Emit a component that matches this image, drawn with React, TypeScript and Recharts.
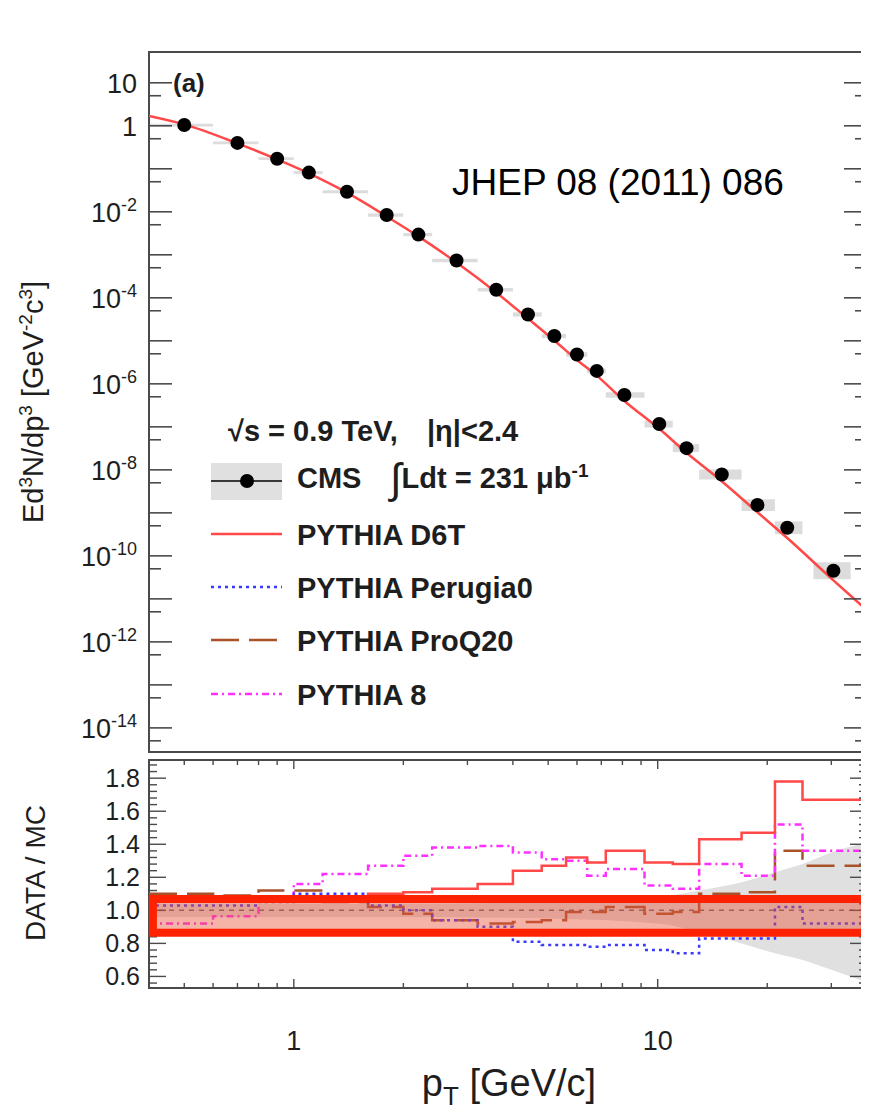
import React from 'react';
import { ComposedChart, Line, Scatter, Area, XAxis, YAxis, ReferenceArea, ReferenceLine } from 'recharts';

// CMS charged hadron spectrum, sqrt(s) = 0.9 TeV, |eta| < 2.4
const cmsPt = [0.5, 0.7, 0.9, 1.1, 1.4, 1.8, 2.2, 2.8, 3.6, 4.4, 5.2, 6.0, 6.8, 8.1, 10.1, 12, 15, 18.8, 22.7, 30.4];
const cmsYield = [1.04, 0.40, 0.172, 0.0817, 0.0292, 0.0084, 0.00295, 7.4e-4, 1.54e-4, 4.1e-5, 1.29e-5, 4.8e-6, 2.0e-6, 5.5e-7, 1.16e-7, 3.2e-8, 7.8e-9, 1.52e-9, 4.5e-10, 4.5e-11];
const cmsSysFactor = [1.08, 1.08, 1.08, 1.08, 1.08, 1.09, 1.09, 1.1, 1.1, 1.12, 1.12, 1.13, 1.14, 1.16, 1.2, 1.24, 1.3, 1.37, 1.41, 1.57];
const cmsBoxLo = [0.4, 0.6, 0.8, 1.0, 1.2, 1.6, 2.0, 2.4, 3.2, 4.0, 4.8, 5.6, 6.4, 7.2, 9.2, 11, 13, 17, 21, 26.8];
const cmsBoxHi = [0.6, 0.8, 1.0, 1.2, 1.6, 2.0, 2.4, 3.2, 4.0, 4.8, 5.6, 6.4, 7.2, 9.2, 11, 13, 17, 21, 25, 33.9];

// PYTHIA D6T curve in the upper panel
const d6tPt = [0.4, 0.5, 0.7, 0.9, 1.1, 1.4, 1.8, 2.2, 2.8, 3.6, 4.4, 5.2, 6.0, 6.8, 8.1, 10.1, 12, 15, 18.8, 22.7, 30.4, 37.6];
const d6tYield = [1.7, 1.08, 0.39, 0.165, 0.078, 0.0278, 0.0078, 0.00268, 6.6e-4, 1.33e-4, 3.3e-5, 1.02e-5, 3.6e-6, 1.55e-6, 4.0e-7, 9.0e-8, 2.5e-8, 5.45e-9, 1.03e-9, 2.6e-10, 2.7e-11, 5.4e-12];

// DATA / MC ratios, one value per bin
const binEdges = [0.4, 0.6, 0.8, 1.0, 1.2, 1.6, 2.0, 2.4, 3.2, 4.0, 4.8, 5.6, 6.4, 7.2, 9.2, 11, 13, 17, 21, 25, 37.6];
const ratioD6T = [1.06, 1.06, 1.06, 1.06, 1.07, 1.10, 1.11, 1.13, 1.16, 1.24, 1.27, 1.32, 1.29, 1.36, 1.29, 1.28, 1.43, 1.47, 1.78, 1.67];
const ratioPerugia0 = [1.03, 1.03, 1.05, 1.10, 1.10, 1.03, 1.00, 0.94, 0.90, 0.81, 0.79, 0.79, 0.78, 0.79, 0.76, 0.74, 0.83, 0.83, 1.02, 0.92];
const ratioProQ20 = [1.10, 1.09, 1.12, 1.12, 1.05, 1.02, 0.98, 0.94, 0.92, 0.93, 0.94, 0.99, 0.99, 1.02, 0.98, 0.99, 1.10, 1.11, 1.36, 1.27];
const ratioPythia8 = [0.92, 0.965, 1.06, 1.16, 1.22, 1.27, 1.33, 1.38, 1.39, 1.35, 1.31, 1.30, 1.21, 1.25, 1.15, 1.13, 1.28, 1.21, 1.52, 1.36];

// data uncertainty band in the ratio panel
const bandPt = [0.4, 2, 5, 10, 13, 17, 21, 25, 30, 37.6];
const bandLo = [0.96, 0.96, 0.95, 0.92, 0.87, 0.80, 0.74, 0.70, 0.64, 0.565];
const bandHi = [1.04, 1.04, 1.05, 1.08, 1.12, 1.17, 1.23, 1.28, 1.35, 1.41];

// highlighted region (red box)
const highlightPt = [0.41, 37.1];
const highlightRatio = [0.864, 1.068];

// axes
const topYMajorExps = [1, 0, -1, -2, -3, -4, -5, -6, -7, -8, -9, -10, -11, -12, -13, -14];
const topYLabelExps = [1, 0, -2, -4, -6, -8, -10, -12, -14];
const ratioMajorTicks = [0.6, 0.8, 1.0, 1.2, 1.4, 1.6, 1.8];
const ratioTickLabels = ['0.6', '0.8', '1.0', '1.2', '1.4', '1.6', '1.8'];
const xMajorTicks = [1, 10];
const xTickLabels = ['1', '10'];
const xMinorTicks = [0.5, 0.6, 0.7, 0.8, 0.9, 2, 3, 4, 5, 6, 7, 8, 9, 20, 30];

const W = 869;
const H = 1115;
const PL = 149;
const PR = 867;
const TOP_T = 52;
const TOP_B = 752;
const RAT_T = 760;
const RAT_B = 988;
const X_MIN = 0.4;
const X_MAX = 37.6;
const Y_MIN = 2.75e-15;
const Y_MAX = 52;
const R_MIN = 0.53;
const R_MAX = 1.91;

const FONT = '"Liberation Sans", Arial, Helvetica, sans-serif';
const FRAME = '#4a4a4a';
const TXT = '#1e1e1e';
const RED = '#ff4848';
const BLUE = '#3a3aff';
const BROWN = '#a8522a';
const MAGENTA = '#ff30ff';
const GRAY = '#e0e0e0';

const cmsRows = cmsPt.map((x, i) => ({ x, y: cmsYield[i] }));
const d6tRows = d6tPt.map((x, i) => ({ x, y: d6tYield[i] }));
const ratioRows = binEdges.map((x, i) => {
  const k = Math.min(i, ratioD6T.length - 1);
  return { x, d6t: ratioD6T[k], per: ratioPerugia0[k], proq: ratioProQ20[k], p8: ratioPythia8[k] };
});
const bandRows = bandPt.map((x, i) => ({ x, band: [bandLo[i], bandHi[i]] }));

const topYTicks = [
  ...topYMajorExps.map((e) => Math.pow(10, e)),
  ...topYMajorExps.map((e) => 5 * Math.pow(10, e - 1)),
];
const ratioYTicks = Array.from({ length: 34 }, (_, i) => +(0.56 + 0.04 * i).toFixed(2));
const xTicks = [...xMajorTicks, ...xMinorTicks];

const PowLabel = ({ x, y, e }: { x: number; y: number; e: number }) => (
  <text x={x} y={y} textAnchor="end" fontFamily={FONT} fontSize={27} fill={TXT}>
    {e === 0 ? '1' : e === 1 ? '10' : (
      <>
        <tspan>10</tspan>
        <tspan dy={-11} fontSize={18}>{String(e)}</tspan>
      </>
    )}
  </text>
);

const TopYTick = (p: any) => {
  const v = p.payload.value;
  const y = p.y;
  const e = Math.round(Math.log10(v));
  const major = Math.abs(v / Math.pow(10, e) - 1) < 1e-6;
  const len = major ? 23 : 12;
  return (
    <g>
      <line x1={PL} y1={y} x2={PL + len} y2={y} stroke={FRAME} strokeWidth={1.6} />
      <line x1={PR} y1={y} x2={PR - len} y2={y} stroke={FRAME} strokeWidth={1.6} />
      {major && topYLabelExps.includes(e) && <PowLabel x={PL - 12} y={y + 10} e={e} />}
    </g>
  );
};

const TopXTick = (p: any) => {
  const x = p.x;
  const major = xMajorTicks.includes(p.payload.value);
  const len = major ? 19 : 9;
  return (
    <g>
      <line x1={x} y1={TOP_T} x2={x} y2={TOP_T + len} stroke={FRAME} strokeWidth={1.6} />
      <line x1={x} y1={TOP_B} x2={x} y2={TOP_B - len} stroke={FRAME} strokeWidth={1.6} />
    </g>
  );
};

const RatioYTick = (p: any) => {
  const v = p.payload.value;
  const y = p.y;
  const idx = ratioMajorTicks.findIndex((m) => Math.abs(m - v) < 1e-6);
  const len = idx >= 0 ? 17 : 8;
  return (
    <g>
      <line x1={PL} y1={y} x2={PL + len} y2={y} stroke={FRAME} strokeWidth={1.4} />
      <line x1={PR} y1={y} x2={PR - len} y2={y} stroke={FRAME} strokeWidth={1.4} />
      {idx >= 0 && (
        <text x={PL - 9} y={y + 9} textAnchor="end" fontFamily={FONT} fontSize={25} fill={TXT}>
          {ratioTickLabels[idx]}
        </text>
      )}
    </g>
  );
};

const RatioXTick = (p: any) => {
  const x = p.x;
  const idx = xMajorTicks.indexOf(p.payload.value);
  const len = idx >= 0 ? 9 : 5;
  return (
    <g>
      <line x1={x} y1={RAT_T} x2={x} y2={RAT_T + len} stroke={FRAME} strokeWidth={1.4} />
      <line x1={x} y1={RAT_B} x2={x} y2={RAT_B - len} stroke={FRAME} strokeWidth={1.4} />
      {idx >= 0 && (
        <text x={x} y={1050} textAnchor="middle" fontFamily={FONT} fontSize={27} fill={TXT}>
          {xTickLabels[idx]}
        </text>
      )}
    </g>
  );
};

const Dot = (p: any) => <circle cx={p.cx} cy={p.cy} r={7} fill="#000" />;

const legendLines = [
  { label: 'PYTHIA D6T', color: RED, dash: undefined, y: 534 },
  { label: 'PYTHIA Perugia0', color: BLUE, dash: '3 4', y: 587 },
  { label: 'PYTHIA ProQ20', color: BROWN, dash: '28 10', y: 640 },
  { label: 'PYTHIA 8', color: MAGENTA, dash: '7 4 2 4', y: 694 },
];

const App: React.FC = () => {
  return (
    <div style={{ position: 'relative', width: W, height: H, margin: -8, background: '#fff', overflow: 'hidden' }}>
      <div style={{ position: 'absolute', left: 0, top: 0 }}>
        <ComposedChart width={W} height={760} margin={{ top: TOP_T, right: W - PR, bottom: 8, left: 0 }}>
          <XAxis type="number" dataKey="x" scale="log" domain={[X_MIN, X_MAX]} allowDataOverflow
            ticks={xTicks} interval={0} tickLine={false} axisLine={false} height={0} tick={TopXTick} />
          <YAxis type="number" dataKey="y" scale="log" domain={[Y_MIN, Y_MAX]} allowDataOverflow
            ticks={topYTicks} interval={0} tickLine={false} axisLine={false} width={PL} tick={TopYTick} />
          {cmsRows.map((r, i) => (
            <ReferenceArea key={i} x1={cmsBoxLo[i]} x2={cmsBoxHi[i]} y1={r.y / cmsSysFactor[i]} y2={r.y * cmsSysFactor[i]}
              fill="#dcdcdc" fillOpacity={1} stroke="none" />
          ))}
          <Line data={d6tRows} dataKey="y" type="monotone" stroke={RED} strokeWidth={2.5} dot={false} isAnimationActive={false} />
          <Scatter data={cmsRows} dataKey="y" shape={Dot} isAnimationActive={false} />
          <ReferenceArea x1={X_MIN} x2={X_MAX} y1={Y_MIN} y2={Y_MAX} fill="none" stroke={FRAME} strokeWidth={2} />
        </ComposedChart>
      </div>

      <div style={{ position: 'absolute', left: 0, top: 0 }}>
        <ComposedChart width={W} height={H} margin={{ top: RAT_T, right: W - PR, bottom: 0, left: 0 }}>
          <XAxis type="number" dataKey="x" scale="log" domain={[X_MIN, X_MAX]} allowDataOverflow
            ticks={xTicks} interval={0} tickLine={false} axisLine={false} height={H - RAT_B} tick={RatioXTick} />
          <YAxis type="number" domain={[R_MIN, R_MAX]} allowDataOverflow
            ticks={ratioYTicks} interval={0} tickLine={false} axisLine={false} width={PL} tick={RatioYTick} />
          <Area data={bandRows} dataKey="band" type="monotone" stroke="none" fill={GRAY} fillOpacity={1} isAnimationActive={false} />
          <ReferenceLine y={1} stroke="#666" strokeWidth={1.5} strokeDasharray="5 5" />
          <Line data={ratioRows} dataKey="proq" type="stepAfter" stroke={BROWN} strokeWidth={2.5} strokeDasharray="28 10" dot={false} isAnimationActive={false} />
          <Line data={ratioRows} dataKey="p8" type="stepAfter" stroke={MAGENTA} strokeWidth={2.5} strokeDasharray="7 4 2 4" dot={false} isAnimationActive={false} />
          <Line data={ratioRows} dataKey="per" type="stepAfter" stroke={BLUE} strokeWidth={2.5} strokeDasharray="3 4" dot={false} isAnimationActive={false} />
          <Line data={ratioRows} dataKey="d6t" type="stepAfter" stroke={RED} strokeWidth={2.5} dot={false} isAnimationActive={false} />
          <ReferenceArea x1={X_MIN} x2={X_MAX} y1={R_MIN} y2={R_MAX} fill="none" stroke={FRAME} strokeWidth={2} />
          <ReferenceArea x1={highlightPt[0]} x2={highlightPt[1]} y1={highlightRatio[0]} y2={highlightRatio[1]}
            fill="#e8553a" fillOpacity={0.45} stroke="#ff2200" strokeWidth={8} zIndex={2000} />
        </ComposedChart>
      </div>

      <svg width={W} height={H} style={{ position: 'absolute', left: 0, top: 0, pointerEvents: 'none' }} fontFamily={FONT}>
        <text x={173} y={92} fontSize={26} fontWeight="bold" fill={TXT}>(a)</text>
        <text x={452} y={195} fontSize={37} fill="#000">JHEP 08 (2011) 086</text>

        <text transform="rotate(-90 43 402)" x={43} y={402} textAnchor="middle" fontSize={29} fill={TXT}>
          <tspan>Ed</tspan>
          <tspan dy={-11} fontSize={19}>3</tspan>
          <tspan dy={11}>N/dp</tspan>
          <tspan dy={-11} fontSize={19}>3</tspan>
          <tspan dy={11}> [GeV</tspan>
          <tspan dy={-11} fontSize={19}>-2</tspan>
          <tspan dy={11}>c</tspan>
          <tspan dy={-11} fontSize={19}>3</tspan>
          <tspan dy={11}>]</tspan>
        </text>
        <text transform="rotate(-90 45 873)" x={45} y={873} textAnchor="middle" fontSize={28} fill={TXT}>DATA / MC</text>
        <text x={509} y={1096} textAnchor="middle" fontSize={38} fill={TXT}>
          <tspan>p</tspan>
          <tspan dy={9} fontSize={26}>T</tspan>
          <tspan dy={-9}> [GeV/c]</tspan>
        </text>

        <text x={228} y={441} fontSize={29} fontWeight="bold" fill={TXT}>√s = 0.9 TeV,</text>
        <text x={427} y={441} fontSize={29} fontWeight="bold" fill={TXT}>|η|&lt;2.4</text>

        <rect x={211} y={463} width={71} height={37} fill={GRAY} />
        <line x1={211} x2={282} y1={481} y2={481} stroke="#000" strokeWidth={1.5} />
        <circle cx={247} cy={481} r={7} fill="#000" />
        <text x={297} y={488} fontSize={29} fontWeight="bold" fill={TXT}>CMS</text>
        <text x={390} y={488} fontSize={29} fontWeight="bold" fill={TXT}>
          <tspan fontSize={42} fontWeight="normal" dy={5}>∫</tspan>
          <tspan dy={-5}>Ldt = 231 μb</tspan>
          <tspan dy={-11} fontSize={19}>-1</tspan>
        </text>

        {legendLines.map((l) => (
          <g key={l.label}>
            <line x1={211} x2={282} y1={l.y} y2={l.y} stroke={l.color} strokeWidth={2.5} strokeDasharray={l.dash} />
            <text x={297} y={l.y + 11} fontSize={29} fontWeight="bold" fill={TXT}>{l.label}</text>
          </g>
        ))}
      </svg>
    </div>
  );
};

export default App;
